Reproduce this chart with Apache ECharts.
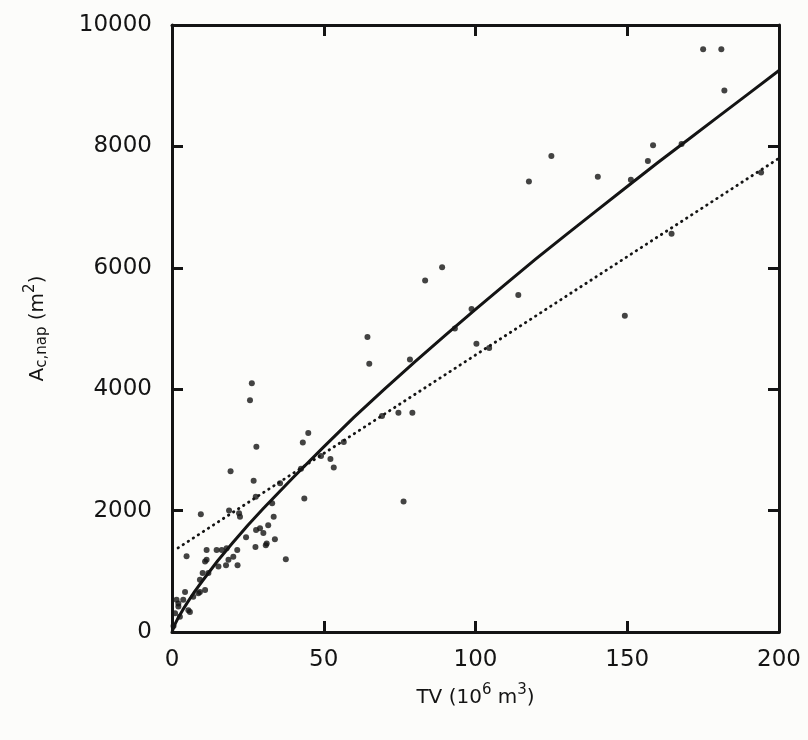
<!DOCTYPE html>
<html>
<head>
<meta charset="utf-8">
<script src="https://cdn.jsdelivr.net/npm/echarts@6/dist/echarts.min.js"></script>
<style>
html,body{margin:0;padding:0;background:#fcfcfa;}
#chart{width:808px;height:740px;}
</style>
</head>
<body>
<div id="chart"></div>
<script>
// Scatter observations (TV in 10^6 m^3, A_c,nap in m^2)
var tvValues = [175, 181, 182, 125, 117.6, 140.3, 158.5, 156.8, 151.2, 167.9, 194.1, 164.6, 114.1, 149.2,
  89, 83.4, 64.4, 65, 78.4, 93.2, 98.7, 100.3, 104.5, 69.2, 74.6, 79.2, 76.3,
  44.9, 43.1, 56.6, 52.2, 53.3, 49.1, 43.6, 37.5, 33.9, 33.5, 31.7, 33, 31.2, 35.6, 42.5,
  26.3, 25.7, 27.8, 19.3, 26.9, 9.5, 4.8, 30.9, 27.5, 30.1, 24.4, 27.7, 29, 22.1, 18.8,
  21.5, 20.2, 21.6, 17.8, 15.3, 14.7, 16.4, 18, 11.4, 10.9, 10.1, 9.2, 10.9, 9.2, 7,
  4.3, 3.7, 5.4, 2.1, 1, 2.6, 1.5, 11.4, 12, 27.6, 18.6, 8.7, 5.9, 2.1, 22.4, 0.5];
var areaValues = [9600, 9600, 8920, 7840, 7420, 7500, 8020, 7760, 7450, 8040, 7570, 6560, 5550, 5210,
  6010, 5790, 4860, 4420, 4490, 5000, 5320, 4750, 4680, 3560, 3610, 3610, 2150,
  3280, 3120, 3130, 2850, 2710, 2900, 2200, 1200, 1530, 1900, 1760, 2120, 1460, 2450, 2690,
  4100, 3820, 3050, 2650, 2490, 1940, 1250, 1430, 1400, 1630, 1560, 1680, 1710, 1955, 2000,
  1350, 1240, 1100, 1100, 1080, 1350, 1350, 1380, 1350, 1160, 970, 860, 690, 660, 580,
  660, 530, 360, 420, 310, 250, 530, 1190, 970, 2230, 1190, 640, 330, 470, 1900, 100];

// Solid fitted curve
var curveTV = [0, 1, 2, 3.5, 5, 7.5, 10, 15, 20, 25, 30, 40, 50, 60, 70, 80, 90, 100, 110, 120, 130, 140, 150, 160, 170, 180, 190, 200];
var curveArea = [0, 130, 230, 360, 480, 670, 840, 1170, 1470, 1760, 2030, 2550, 3050, 3540, 4000, 4450, 4885, 5315, 5735, 6150, 6550, 6945, 7340, 7730, 8110, 8490, 8870, 9250];

// Dotted fitted line, end points
var lineTV = [2, 200];
var lineArea = [1385, 7805];

// Axis ticks
var xTicks = [0, 50, 100, 150, 200];
var yTicks = [0, 2000, 4000, 6000, 8000, 10000];

function pairs(xs, ys) { return xs.map(function (x, i) { return [x, ys[i]]; }); }

var ink = '#141414';
var labelFont = { color: ink, fontSize: 23, fontFamily: 'DejaVu Sans' };

function xAx(pos, showLabel, withName) {
  var a = {
    type: 'value', position: pos, min: xTicks[0], max: xTicks[xTicks.length - 1], interval: 50,
    axisLine: { show: true, onZero: false, lineStyle: { color: ink, width: 3 } },
    axisTick: { show: true, inside: true, length: 11, lineStyle: { color: ink, width: 3 } },
    splitLine: { show: false },
    axisLabel: Object.assign({ show: showLabel, margin: 17, formatter: function (v) { return String(v); } }, labelFont)
  };
  if (withName) {
    a.name = '{a|TV (10}{sup|6}{a| m}{sup|3}{a|)}';
    a.nameLocation = 'middle';
    a.nameGap = 51;
    a.nameTextStyle = {
      rich: {
        a: { fontSize: 20, color: ink, fontFamily: 'DejaVu Sans' },
        sup: { fontSize: 15, color: ink, fontFamily: 'DejaVu Sans', padding: [0, 0, 14, 0] }
      }
    };
  }
  return a;
}
function yAx(pos, showLabel, withName) {
  var a = {
    type: 'value', position: pos, min: yTicks[0], max: yTicks[yTicks.length - 1], interval: 2000,
    axisLine: { show: true, onZero: false, lineStyle: { color: ink, width: 3 } },
    axisTick: { show: true, inside: true, length: 11, lineStyle: { color: ink, width: 3 } },
    splitLine: { show: false },
    axisLabel: Object.assign({ show: showLabel, margin: 20, formatter: function (v) { return String(v); } }, labelFont)
  };
  if (withName) {
    a.name = '{a|A}{sub|c,nap}{a| (m}{sup|2}{a|)}';
    a.nameLocation = 'middle';
    a.nameRotate = 90;
    a.nameGap = 120;
    a.nameTextStyle = {
      rich: {
        a: { fontSize: 20, color: ink, fontFamily: 'DejaVu Sans' },
        sub: { fontSize: 15, color: ink, fontFamily: 'DejaVu Sans', padding: [10, 0, 0, 0] },
        sup: { fontSize: 15, color: ink, fontFamily: 'DejaVu Sans', padding: [0, 0, 14, 0] }
      }
    };
  }
  return a;
}

var chart = echarts.init(document.getElementById('chart'), null, { renderer: 'canvas' });
chart.setOption({
  backgroundColor: '#fcfcfa',
  animation: false,
  grid: { left: 172, right: 29, top: 25, bottom: 108, containLabel: false },
  xAxis: [xAx('bottom', true, true), xAx('top', false, false)],
  yAxis: [yAx('left', true, true), yAx('right', false, false)],
  series: [
    {
      type: 'scatter', xAxisIndex: 0, yAxisIndex: 0,
      data: pairs(tvValues, areaValues),
      symbol: 'circle', symbolSize: 6,
      itemStyle: { color: ink }
    },
    {
      type: 'line', xAxisIndex: 0, yAxisIndex: 0,
      data: pairs(curveTV, curveArea),
      smooth: false, showSymbol: false, symbol: 'none',
      lineStyle: { color: ink, width: 3, join: 'round' }
    },
    {
      type: 'line', xAxisIndex: 0, yAxisIndex: 0,
      data: pairs(lineTV, lineArea),
      showSymbol: false, symbol: 'none',
      lineStyle: { color: ink, width: 2.8, type: [0.5, 5.5], cap: 'round' }
    }
  ]
});
</script>
</body>
</html>
